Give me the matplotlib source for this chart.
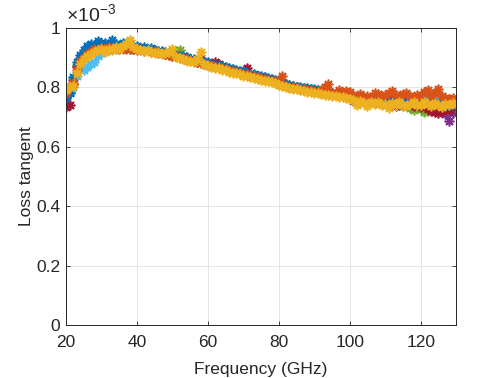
import numpy as np
import matplotlib
matplotlib.use("Agg")
import matplotlib.pyplot as plt

plt.rcParams['font.family'] = ['Liberation Sans', 'DejaVu Sans']
plt.rcParams['mathtext.fontset'] = 'custom'
plt.rcParams['mathtext.rm'] = 'Liberation Sans'
plt.rcParams['mathtext.it'] = 'Liberation Sans:italic'

freq = list(range(20, 131))  # GHz

# Loss tangent values in units of 1e-6
blue = [765, 780, 835, 885, 910, 925, 938, 945, 936, 955,
        948, 950, 942, 958, 946, 940, 948, 938, 945, 936,
        940, 933, 936, 929, 932, 925, 924, 921, 918, 915,
        917, 910, 906, 904, 901, 897, 895, 890, 889, 885,
        884, 880, 877, 874, 871, 869, 864, 863, 858, 856,
        854, 850, 846, 845, 840, 838, 835, 831, 829, 826,
        818, 815, 812, 808, 806, 803, 800, 799, 797, 794,
        793, 790, 789, 786, 785, 782, 781, 778, 777, 774,
        773, 770, 769, 766, 765, 762, 760, 758, 757, 756,
        755, 754, 756, 752, 755, 751, 756, 753, 750, 756,
        754, 748, 752, 745, 750, 742, 748, 738, 745, 740, 744]
orange = [780, 800, 815, 860, 888, 900, 912, 918, 930, 925,
          932, 928, 935, 930, 934, 928, 932, 930, 928, 930,
          926, 928, 924, 925, 920, 921, 916, 917, 912, 910,
          906, 905, 900, 898, 894, 893, 888, 886, 882, 879,
          876, 874, 870, 868, 864, 862, 858, 856, 853, 850,
          846, 844, 840, 838, 834, 832, 829, 826, 822, 820,
          812, 840, 806, 803, 800, 798, 795, 793, 791, 790,
          787, 786, 790, 800, 810, 781, 778, 790, 780, 788,
          786, 770, 768, 778, 765, 772, 760, 780, 778, 770,
          775, 782, 788, 776, 770, 778, 780, 772, 765, 775,
          770, 785, 790, 772, 780, 795, 770, 765, 760, 765, 758]
yellow = [790, 800, 805, 850, 880, 895, 905, 912, 918, 925,
          928, 920, 930, 925, 935, 928, 940, 945, 960, 935,
          928, 925, 922, 926, 918, 915, 918, 912, 915, 920,
          928, 902, 898, 895, 890, 888, 885, 895, 918, 878,
          872, 870, 866, 864, 860, 857, 853, 850, 847, 845,
          840, 838, 835, 832, 829, 826, 823, 820, 818, 815,
          808, 805, 802, 799, 796, 794, 791, 789, 786, 784,
          782, 780, 778, 776, 774, 772, 770, 768, 766, 764,
          762, 758, 742, 755, 748, 738, 750, 745, 752, 740,
          745, 732, 748, 740, 750, 742, 738, 745, 750, 742,
          740, 752, 745, 738, 748, 742, 735, 745, 740, 748, 745]
purple = [772, 785, 825, 875, 898, 908, 918, 925, 930, 935,
          938, 936, 940, 938, 937, 939, 936, 935, 933, 934,
          931, 930, 929, 927, 925, 923, 921, 918, 915, 912,
          909, 906, 903, 900, 897, 894, 891, 890, 900, 882,
          879, 876, 873, 870, 867, 864, 861, 858, 855, 852,
          849, 846, 843, 840, 837, 834, 831, 828, 825, 822,
          815, 812, 809, 806, 803, 800, 798, 796, 794, 792,
          790, 788, 786, 784, 782, 780, 778, 776, 774, 772,
          770, 755, 764, 752, 760, 750, 758, 748, 755, 745,
          752, 740, 750, 738, 748, 742, 745, 735, 742, 730,
          738, 728, 735, 725, 732, 722, 728, 710, 688, 715, 720]
green = [780, 792, 828, 872, 893, 905, 915, 922, 928, 930,
         932, 934, 933, 935, 936, 940, 945, 950, 940, 934,
         931, 929, 928, 926, 924, 922, 920, 917, 914, 912,
         915, 922, 926, 905, 898, 895, 892, 889, 886, 883,
         880, 877, 874, 871, 868, 865, 862, 859, 856, 853,
         850, 847, 844, 841, 838, 835, 832, 829, 826, 823,
         816, 813, 810, 807, 804, 801, 799, 797, 795, 793,
         790, 788, 786, 784, 782, 780, 778, 776, 774, 772,
         770, 762, 768, 758, 764, 755, 762, 750, 758, 748,
         755, 745, 752, 742, 750, 738, 745, 732, 725, 735,
         728, 718, 722, 730, 725, 735, 740, 730, 738, 742, 735]
lightblue = [775, 785, 800, 840, 865, 860, 870, 880, 885, 905,
             915, 922, 925, 928, 930, 932, 930, 933, 930, 932,
             930, 928, 927, 925, 923, 921, 919, 917, 914, 911,
             908, 905, 903, 900, 897, 894, 891, 888, 885, 882,
             879, 876, 873, 870, 867, 865, 861, 858, 856, 852,
             849, 846, 843, 840, 837, 834, 831, 828, 825, 822,
             814, 811, 808, 805, 802, 800, 797, 795, 793, 791,
             789, 787, 785, 783, 781, 779, 777, 775, 773, 771,
             769, 766, 770, 760, 766, 758, 764, 755, 762, 752,
             760, 750, 758, 748, 757, 752, 760, 750, 755, 765,
             758, 762, 755, 768, 775, 778, 760, 752, 748, 755, 750]
darkred = [735, 742, 810, 868, 892, 905, 912, 930, 940, 948,
           942, 935, 938, 932, 935, 930, 933, 931, 932, 930,
           929, 928, 926, 925, 922, 921, 918, 916, 913, 910,
           907, 904, 901, 898, 895, 892, 889, 886, 883, 880,
           877, 875, 885, 880, 866, 863, 860, 857, 854, 851,
           848, 865, 842, 839, 836, 833, 830, 827, 824, 821,
           813, 810, 807, 804, 801, 799, 797, 795, 793, 791,
           789, 787, 785, 783, 781, 779, 777, 775, 773, 771,
           769, 765, 760, 768, 755, 762, 752, 765, 750, 760,
           748, 762, 745, 758, 742, 755, 740, 750, 738, 745,
           735, 742, 728, 722, 718, 715, 722, 730, 725, 735, 740]

series = [(purple, '#7E2F8E'), (green, '#77AC30'), (lightblue, '#4DBEEE'),
          (darkred, '#A2142F'), (blue, '#0072BD'), (orange, '#D95319'),
          (yellow, '#EDB120')]

fig = plt.figure(figsize=(5.04, 3.78), dpi=100)
ax = fig.add_axes([0.131, 0.140, 0.774, 0.786])

f = np.array(freq)
for vals, col in series:
    ax.plot(f, np.array(vals) / 1000.0, '-', marker=(8, 2, 0), color=col,
            lw=0.8, markersize=7, markeredgewidth=1.2)

ax.set_xlim(20, 130)
ax.set_ylim(0, 1)
ax.set_xticks([20, 40, 60, 80, 100, 120])
ax.set_yticks([0, 0.2, 0.4, 0.6, 0.8, 1.0])
ax.set_yticklabels(['0', '0.2', '0.4', '0.6', '0.8', '1'])
ax.grid(True, color='#E0E0E0', lw=0.6)
ax.set_axisbelow(True)
ax.tick_params(direction='in', length=3, width=0.6, colors='#262626',
               labelsize=12.5, top=True, right=True)
ax.tick_params(axis='x', pad=7.5)
ax.tick_params(axis='y', pad=4)
for sp in ax.spines.values():
    sp.set_color('#262626')
    sp.set_linewidth(0.7)
ax.set_xlabel('Frequency (GHz)', fontsize=12.5, color='#262626', labelpad=8)
ax.set_ylabel('Loss tangent', fontsize=12.5, color='#262626', labelpad=2)
ax.text(0.0, 1.008, r'$\times 10^{-3}$', transform=ax.transAxes,
        fontsize=14, color='#262626', ha='left', va='bottom')

fig.savefig('out.png', dpi=100)
